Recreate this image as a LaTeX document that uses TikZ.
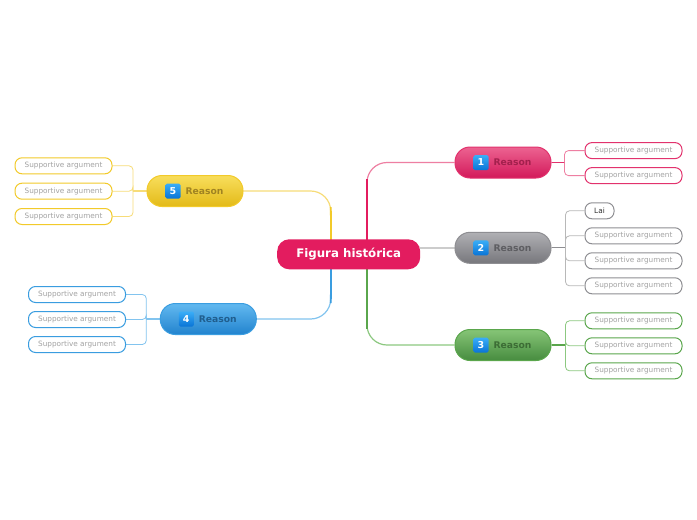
\documentclass[tikz,border=0pt]{standalone}
\usepackage{fontspec}
\setmainfont{DejaVu Sans}
\usetikzlibrary{calc,backgrounds}
\definecolor{cen}{HTML}{E31C5F}
\definecolor{pinkT}{HTML}{EC6391}\definecolor{pinkB}{HTML}{D3195A}\definecolor{pinkD}{HTML}{E2326D}\definecolor{pinkTx}{HTML}{A3204D}\definecolor{pinkL}{HTML}{EE7FA2}
\definecolor{grayT}{HTML}{B0B0B4}\definecolor{grayB}{HTML}{77777C}\definecolor{grayD}{HTML}{8E8E92}\definecolor{grayTx}{HTML}{5E5E62}\definecolor{grayL}{HTML}{B8B8B8}
\definecolor{greenT}{HTML}{86C577}\definecolor{greenB}{HTML}{478C3F}\definecolor{greenD}{HTML}{5AA64C}\definecolor{greenTx}{HTML}{3C6D35}\definecolor{greenL}{HTML}{8CC880}
\definecolor{yelT}{HTML}{F8DE5C}\definecolor{yelB}{HTML}{E3BA18}\definecolor{yelD}{HTML}{F2CA2A}\definecolor{yelTx}{HTML}{A08322}\definecolor{yelL}{HTML}{F7DC78}
\definecolor{bluT}{HTML}{62B9F0}\definecolor{bluB}{HTML}{2283CE}\definecolor{bluD}{HTML}{3A9DE0}\definecolor{bluTx}{HTML}{205E8E}\definecolor{bluL}{HTML}{82C4EF}
\definecolor{bdT}{HTML}{3AAEF7}\definecolor{bdB}{HTML}{0A74D6}
\definecolor{leaftx}{HTML}{A2A2A2}
\begin{document}
\begin{tikzpicture}[x=1pt,y=-1pt,
  central/.style={rounded corners=12pt, fill=cen, text=white, font=\bfseries\fontsize{11.8}{12}\selectfont, minimum width=143pt, minimum height=30pt, inner sep=0pt},
  mainnode/.style={rounded corners=15pt, minimum width=96pt, minimum height=31pt, line width=1pt, inner sep=0pt},
  leaf/.style={rounded corners=7pt, fill=white, minimum width=97pt, minimum height=16pt, line width=1pt, text=leaftx, font=\fontsize{7.3}{8}\selectfont, inner sep=0pt},
  badge/.style={rounded corners=1.5pt, top color=bdT, bottom color=bdB, draw=none, minimum size=15pt, inner sep=0pt, text=white, font=\bfseries\fontsize{9.5}{10}\selectfont},
  rtext/.style={font=\bfseries\fontsize{9.2}{10}\selectfont, inner sep=0pt},
  trunk/.style={line width=1.2pt, rounded corners=20pt},
  twig/.style={line width=0.8pt, rounded corners=4pt},
  stub/.style={line width=1.2pt}
]
\useasboundingbox (0,0) rectangle (697,520);

% central
\node[central] (c) at (348.7,254.3) {Figura histórica};

% main nodes
\node[mainnode, top color=pinkT, bottom color=pinkB, draw=pinkD] (r1) at (503,162.5) {};
\node[mainnode, top color=grayT, bottom color=grayB, draw=grayD] (r2) at (503,247.8) {};
\node[mainnode, top color=greenT, bottom color=greenB, draw=greenD] (r3) at (503,345) {};
\node[mainnode, top color=yelT, bottom color=yelB, draw=yelD] (r5) at (195,191) {};
\node[mainnode, top color=bluT, bottom color=bluB, draw=bluD] (r4) at (208.3,319) {};

\foreach \n/\tc in {1/pinkTx,2/grayTx,3/greenTx,5/yelTx,4/bluTx}{
  \node[badge] (b\n) at ($(r\n.center)+(-22,0)$) {\n};
  \node[rtext, text=\tc] (t\n) at ($(r\n.center)+(9.5,0)$) {Reason};
}

% leaves
\node[leaf, draw=pinkD] (l1a) at (633.5,150.6) {Supportive argument};
\node[leaf, draw=pinkD] (l1b) at (633.5,175.6) {Supportive argument};
\node[leaf, draw=grayD, text=black!80, minimum width=29pt] (l2a) at (599.5,210.8) {Lai};
\node[leaf, draw=grayD] (l2b) at (633.5,235.8) {Supportive argument};
\node[leaf, draw=grayD] (l2c) at (633.5,260.8) {Supportive argument};
\node[leaf, draw=grayD] (l2d) at (633.5,285.8) {Supportive argument};
\node[leaf, draw=greenD] (l3a) at (633.5,320.8) {Supportive argument};
\node[leaf, draw=greenD] (l3b) at (633.5,345.8) {Supportive argument};
\node[leaf, draw=greenD] (l3c) at (633.5,370.8) {Supportive argument};
\node[leaf, draw=yelD] (l5a) at (63.5,165.8) {Supportive argument};
\node[leaf, draw=yelD] (l5b) at (63.5,191.2) {Supportive argument};
\node[leaf, draw=yelD] (l5c) at (63.5,216.5) {Supportive argument};
\node[leaf, draw=bluD] (l4a) at (77,294.5) {Supportive argument};
\node[leaf, draw=bluD] (l4b) at (77,319.5) {Supportive argument};
\node[leaf, draw=bluD] (l4c) at (77,344.5) {Supportive argument};

% junctions
\coordinate (cR) at ($(c.center)+(18.3,0)$);
\coordinate (cL) at ($(c.center)+(-18,0)$);
\coordinate (k1) at ($(cR |- r1.west)+(0,20)$);
\coordinate (k3) at ($(cR |- r3.west)+(0,-20)$);
\coordinate (k5) at ($(cL |- r5.east)+(0,20)$);
\coordinate (k4) at ($(cL |- r4.east)+(0,-20)$);
\coordinate (j1) at ($(r1.east)+(13,0)$);
\coordinate (j2) at ($(r2.east)+(14,0)$);
\coordinate (j3) at ($(r3.east)+(14,0)$);
\coordinate (j5) at ($(r5.west)+(-13.5,0)$);
\coordinate (j4) at ($(r4.west)+(-13.5,0)$);

\begin{scope}[on background layer]
\fill[white] (0,0) rectangle (697,520);
% trunks
\draw[trunk, draw=pinkL] (cR) |- (r1.west);
\draw[trunk, draw=greenL] (cR) |- (r3.west);
\draw[trunk, draw=yelL] (cL) |- (r5.east);
\draw[trunk, draw=bluL] (cL) |- (r4.east);
\foreach \k/\cc/\s in {k1/cen/cR,k3/greenD/cR,k5/yelD/cL,k4/bluD/cL}{
  \draw[line width=2.3pt, draw=\cc] (\s) -- (\k);
  \draw[line width=1.7pt, draw=\cc] ($(\s)!0.9!(\k)$) -- ($(\k)!4pt!180:(\s)$);
}
\draw[line width=1.4pt, draw=gray!40] (c.east |- r2.west) -- (r2.west);
% twigs
\draw[stub, draw=pinkD] (r1.east) -- (j1);
\foreach \l in {l1a,l1b} \draw[twig, draw=pinkL] (j1) |- (\l.west);
\draw[stub, draw=grayD] (r2.east) -- (j2);
\foreach \l in {l2a,l2b,l2c,l2d} \draw[twig, draw=grayL] (j2) |- (\l.west);
\draw[stub, draw=greenD] (r3.east) -- (j3);
\foreach \l in {l3a,l3b,l3c} \draw[twig, draw=greenL] (j3) |- (\l.west);
\draw[stub, draw=yelL] (r5.west) -- (j5);
\foreach \l in {l5a,l5b,l5c} \draw[twig, draw=yelL] (j5) |- (\l.east);
\draw[stub, draw=bluL] (r4.west) -- (j4);
\foreach \l in {l4a,l4b,l4c} \draw[twig, draw=bluL] (j4) |- (\l.east);
\end{scope}
\end{tikzpicture}
\end{document}
